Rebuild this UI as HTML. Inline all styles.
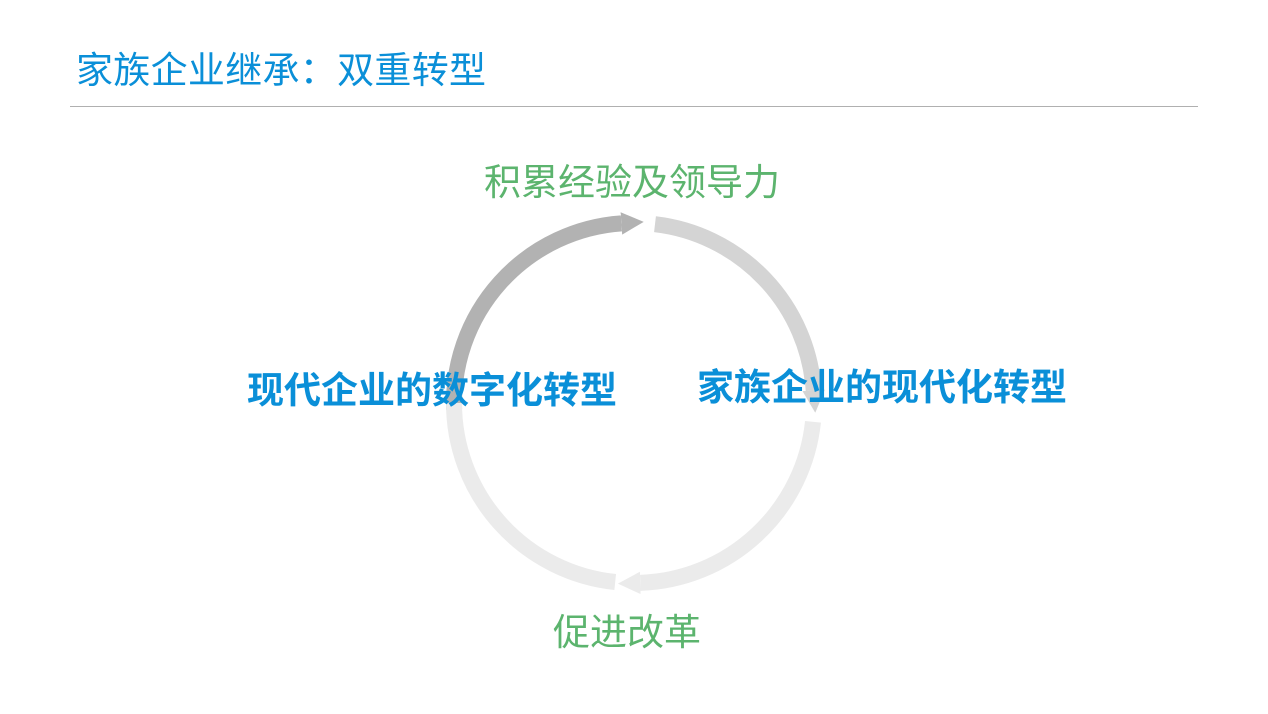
<!DOCTYPE html>
<html><head><meta charset="utf-8"><style>
body{margin:0;width:1268px;height:714px;background:#fff;position:relative;overflow:hidden;font-family:"Liberation Sans","Noto Sans CJK SC",sans-serif}
.t{position:absolute;white-space:nowrap;line-height:1}
</style></head><body>
<div class="t" style="left:76px;top:52px;font-size:37px;letter-spacing:0.3px;color:#0a8fd8">家族企业继承：双重转型</div>
<div style="position:absolute;left:70px;top:106px;width:1128px;height:1px;background:#b0b0b0"></div>
<svg width="1268" height="714" style="position:absolute;left:0;top:0">
<defs>
<marker id="m1" viewBox="0 0 10 10" refX="0" refY="5" markerWidth="1.4" markerHeight="2" orient="auto"><path d="M0 0L10 5L0 10z" fill="#b2b2b2"/></marker>
<marker id="m2" viewBox="0 0 10 10" refX="0" refY="5" markerWidth="1.4" markerHeight="2" orient="auto"><path d="M0 0L10 5L0 10z" fill="#d4d4d4"/></marker>
<marker id="m3" viewBox="0 0 10 10" refX="0" refY="5" markerWidth="1.4" markerHeight="2" orient="auto"><path d="M0 0L10 5L0 10z" fill="#ebebeb"/></marker>
</defs>
<g fill="none" stroke-width="16">
<path d="M454.1 409.3 A180 180 0 0 1 621.4 223.4" stroke="#b2b2b2" marker-end="url(#m1)"/>
<path d="M655 224.2 A180 180 0 0 1 813.7 390.4" stroke="#d4d4d4" marker-end="url(#m2)"/>
<path d="M813 421.8 A180 180 0 0 1 640.3 582.9" stroke="#ebebeb" marker-end="url(#m3)"/>
<path d="M615.2 582 A180 180 0 0 1 454 403" stroke="#ebebeb"/>
</g>
</svg>
<div class="t" style="left:484px;top:164px;font-size:37px;color:#5cb46e">积累经验及领导力</div>
<div class="t" style="left:553px;top:614px;font-size:37px;color:#5cb46e">促进改革</div>
<div class="t" style="left:247px;top:372px;font-size:37px;font-weight:bold;color:#0a8fd8">现代企业的数字化转型</div>
<div class="t" style="left:697px;top:369px;font-size:37px;font-weight:bold;color:#0a8fd8">家族企业的现代化转型</div>
</body></html>
